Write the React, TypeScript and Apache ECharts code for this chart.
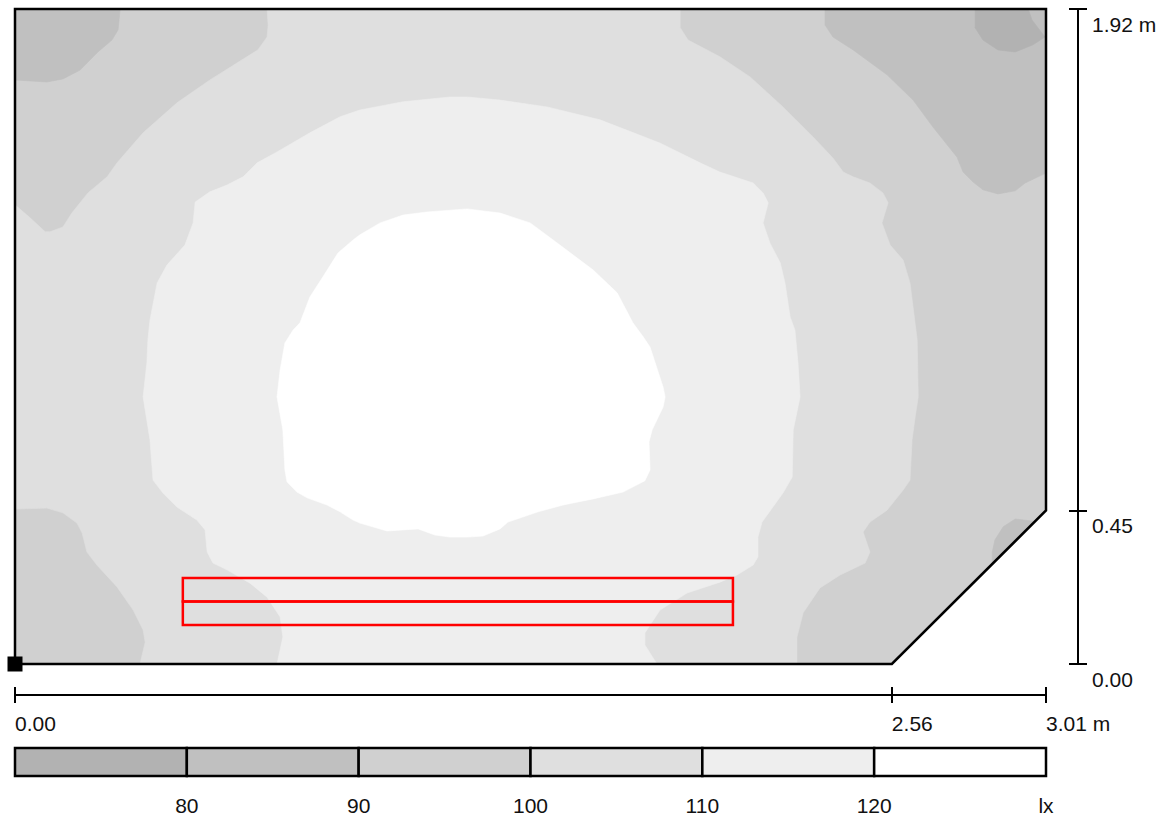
import React, { useEffect, useRef } from "react";
import * as echarts from "echarts";

// Room geometry (m)
const roomOutline: number[][] = [[0, 0], [0, 1.92], [3.01, 1.92], [3.01, 0.45], [2.56, 0]];

// Isolux band polygons (m)
const band100: number[][] = [
  [0.736, 1.92], [1.942, 1.92], [1.942, 1.865], [1.965, 1.829], [2.058, 1.78], [2.146, 1.721], [2.242, 1.633],
  [2.33, 1.545], [2.388, 1.483], [2.418, 1.442], [2.447, 1.428], [2.496, 1.41], [2.534, 1.381], [2.549, 1.352],
  [2.531, 1.293], [2.555, 1.228], [2.593, 1.184], [2.613, 1.117], [2.634, 0.95], [2.637, 0.783], [2.628, 0.724],
  [2.619, 0.657], [2.613, 0.539], [2.593, 0.51], [2.546, 0.451], [2.496, 0.416], [2.476, 0.387], [2.496, 0.328],
  [2.482, 0.296], [2.409, 0.261], [2.35, 0.223], [2.301, 0.15], [2.283, 0.079], [2.283, 0], [0.365, 0],
  [0.38, 0.064], [0.374, 0.1], [0.345, 0.158], [0.298, 0.226], [0.239, 0.29], [0.21, 0.328], [0.196, 0.384],
  [0.181, 0.413], [0.14, 0.443], [0.093, 0.457], [0, 0.454], [0, 1.346], [0.044, 1.308], [0.088, 1.267],
  [0.102, 1.267], [0.14, 1.281], [0.166, 1.322], [0.213, 1.381], [0.269, 1.428], [0.298, 1.469], [0.374, 1.557],
  [0.473, 1.645], [0.569, 1.712], [0.709, 1.8], [0.736, 1.838], [0.739, 1.873],
];
const band110: number[][] = [
  [0.388, 0.95], [0.385, 0.882], [0.374, 0.783], [0.394, 0.657], [0.403, 0.539], [0.432, 0.501], [0.473, 0.46],
  [0.531, 0.422], [0.555, 0.393], [0.561, 0.328], [0.578, 0.296], [0.619, 0.276], [0.686, 0.237], [0.736, 0.196],
  [0.774, 0.138], [0.782, 0.079], [0.765, 0], [1.874, 0], [1.839, 0.056], [1.839, 0.091], [1.883, 0.158],
  [1.962, 0.208], [2.058, 0.24], [2.108, 0.261], [2.155, 0.29], [2.169, 0.314], [2.169, 0.372], [2.181, 0.416],
  [2.242, 0.501], [2.269, 0.548], [2.272, 0.686], [2.292, 0.783], [2.286, 0.882], [2.277, 0.979], [2.263, 1.017],
  [2.248, 1.117], [2.234, 1.176], [2.204, 1.234], [2.184, 1.293], [2.199, 1.352], [2.184, 1.381], [2.155, 1.41],
  [2.058, 1.442], [2.0, 1.469], [1.883, 1.527], [1.708, 1.595], [1.553, 1.633], [1.416, 1.653], [1.32, 1.662],
  [1.27, 1.662], [1.133, 1.648], [1.007, 1.624], [0.949, 1.604], [0.861, 1.557], [0.765, 1.501], [0.707, 1.469],
  [0.666, 1.428], [0.619, 1.404], [0.569, 1.384], [0.526, 1.354], [0.52, 1.293], [0.496, 1.228], [0.444, 1.17],
  [0.415, 1.117], [0.394, 1.008],
];
const band120: number[][] = [
  [1.007, 1.258], [1.066, 1.293], [1.133, 1.316], [1.203, 1.325], [1.32, 1.334], [1.416, 1.322], [1.504, 1.293],
  [1.591, 1.228], [1.688, 1.155], [1.758, 1.088], [1.804, 1.0], [1.834, 0.959], [1.854, 0.929], [1.892, 0.812],
  [1.898, 0.783], [1.892, 0.753], [1.86, 0.686], [1.851, 0.651], [1.854, 0.569], [1.839, 0.537], [1.775, 0.504],
  [1.688, 0.484], [1.6, 0.466], [1.527, 0.446], [1.474, 0.428], [1.439, 0.416], [1.416, 0.396], [1.366, 0.375],
  [1.32, 0.372], [1.27, 0.372], [1.226, 0.378], [1.177, 0.396], [1.086, 0.39], [1.007, 0.413], [0.987, 0.422],
  [0.949, 0.446], [0.911, 0.466], [0.853, 0.487], [0.823, 0.504], [0.794, 0.534], [0.788, 0.569], [0.782, 0.686],
  [0.765, 0.783], [0.774, 0.862], [0.788, 0.941], [0.812, 0.979], [0.832, 1.0], [0.861, 1.076], [0.899, 1.135],
  [0.943, 1.205], [0.987, 1.243],
];
const band80TopLeft: number[][] = [
  [0, 1.92], [0.307, 1.92], [0.301, 1.859], [0.283, 1.829], [0.242, 1.794], [0.19, 1.741], [0.14, 1.715],
  [0.093, 1.706], [0, 1.712],
];
const band80TopRight: number[][] = [
  [2.365, 1.92], [3.01, 1.92], [3.01, 1.439], [2.949, 1.41], [2.92, 1.387], [2.87, 1.378], [2.826, 1.39],
  [2.797, 1.413], [2.768, 1.442], [2.75, 1.486], [2.68, 1.574], [2.622, 1.653], [2.546, 1.727], [2.447, 1.8],
  [2.388, 1.838], [2.365, 1.873],
];
const band80BottomRight: number[][] = [
  [2.978, 0.418], [2.92, 0.425], [2.885, 0.402], [2.861, 0.364], [2.853, 0.328], [2.853, 0.293],
];
const band70TopRight: number[][] = [
  [2.803, 1.92], [2.958, 1.92], [2.969, 1.888], [3.007, 1.838], [2.972, 1.815], [2.92, 1.794], [2.87, 1.8],
  [2.826, 1.829], [2.803, 1.865],
];

// Luminaire (m): [x0, y0, x1, y1]
const luminaireCells: number[][] = [
  [0.49, 0.114, 2.096, 0.183],
  [0.49, 0.183, 2.096, 0.252],
];

// Scales
const xTickValues = [0, 2.56, 3.01];
const xTickLabels = ["0.00", "2.56", "3.01 m"];
const yTickValues = [0, 0.45, 1.92];
const yTickLabels = ["0.00", "0.45", "1.92 m"];

// Legend
const legendColors = ["#b2b2b2", "#c0c0c0", "#d0d0d0", "#dfdfdf", "#eeeeee", "#ffffff"];
const legendLabels = ["", "80", "90", "100", "110", "120", "lx"];

const FONT = "'Liberation Sans', Arial, sans-serif";
const FS = 21;

function nearestLabel(values: number[], labels: string[], v: number) {
  let best = 0;
  for (let i = 1; i < values.length; i++) {
    if (Math.abs(values[i] - v) < Math.abs(values[best] - v)) best = i;
  }
  return labels[best];
}

function polySeries(polys: number[][][], fill: string, stroke?: string, lw?: number) {
  return {
    type: "custom",
    xAxisIndex: 0,
    yAxisIndex: 0,
    silent: true,
    data: polys.map(() => [0, 0]),
    renderItem: (params: any, api: any) => {
      const poly = polys[params.dataIndex];
      return {
        type: "polygon",
        shape: { points: poly.map((p) => api.coord(p)) },
        style: { fill, stroke: stroke || fill, lineWidth: lw ?? 0.6, lineJoin: "miter" },
      };
    },
  };
}

export default function App() {
  const ref = useRef<HTMLDivElement>(null);
  useEffect(() => {
    if (!ref.current) return;
    const chart = echarts.init(ref.current, undefined, { renderer: "svg" });
    const tickStyle = { color: "#000", width: 2 };
    const option: any = {
      animation: false,
      backgroundColor: "#ffffff",
      grid: [
        { left: 15, top: 9, width: 1031, height: 655 },
        { left: 15, top: 695, width: 1031, height: 0 },
        { left: 1078, top: 9, width: 0, height: 655 },
        { left: 15, top: 748, width: 1031, height: 28 },
      ],
      xAxis: [
        { gridIndex: 0, type: "value", min: 0, max: 3.01, show: false },
        {
          gridIndex: 1, type: "value", min: 0, max: 3.01, position: "bottom",
          axisLine: { show: true, lineStyle: { color: "#000", width: 2 } },
          axisTick: { show: true, length: 8, customValues: xTickValues, lineStyle: tickStyle },
          axisLabel: {
            show: true, customValues: xTickValues, align: "left", margin: 18,
            fontFamily: FONT, fontSize: FS, color: "#111",
            formatter: (v: number) => nearestLabel(xTickValues, xTickLabels, v),
          },
          splitLine: { show: false },
        },
        {
          gridIndex: 1, type: "value", min: 0, max: 3.01, position: "top",
          axisLine: { show: false },
          axisTick: { show: true, length: 8, customValues: xTickValues, lineStyle: tickStyle },
          axisLabel: { show: false },
          splitLine: { show: false },
        },
        { gridIndex: 2, type: "value", min: 0, max: 1, show: false },
        {
          gridIndex: 3, type: "value", min: 0, max: 6, interval: 1,
          axisLine: { show: false }, axisTick: { show: false }, splitLine: { show: false },
          axisLabel: {
            show: true, margin: 19, fontFamily: FONT, fontSize: FS, color: "#111",
            showMinLabel: true, showMaxLabel: true,
            formatter: (v: number) => legendLabels[Math.round(v)] || "",
          },
        },
      ],
      yAxis: [
        { gridIndex: 0, type: "value", min: 0, max: 1.92, show: false },
        { gridIndex: 1, type: "value", min: 0, max: 1, show: false },
        {
          gridIndex: 2, type: "value", min: 0, max: 1.92, position: "right",
          axisLine: { show: true, lineStyle: { color: "#000", width: 2 } },
          axisTick: { show: true, length: 9, customValues: yTickValues, lineStyle: tickStyle },
          axisLabel: {
            show: true, customValues: yTickValues, margin: 14, verticalAlign: "top",
            padding: [5, 0, 0, 0], align: "left",
            fontFamily: FONT, fontSize: FS, color: "#111",
            formatter: (v: number) => nearestLabel(yTickValues, yTickLabels, v),
          },
          splitLine: { show: false },
        },
        {
          gridIndex: 2, type: "value", min: 0, max: 1.92, position: "left",
          axisLine: { show: false },
          axisTick: { show: true, length: 9, customValues: yTickValues, lineStyle: tickStyle },
          axisLabel: { show: false },
          splitLine: { show: false },
        },
        { gridIndex: 3, type: "value", min: 0, max: 1, show: false },
      ],
      series: [
        polySeries([roomOutline], legendColors[2]),
        polySeries([band100], legendColors[3]),
        polySeries([band110], legendColors[4]),
        polySeries([band120], legendColors[5]),
        polySeries([band80TopLeft, band80TopRight, band80BottomRight], legendColors[1]),
        polySeries([band70TopRight], legendColors[0]),
        polySeries([roomOutline], "none", "#000", 2.5),
        {
          type: "custom",
          xAxisIndex: 0,
          yAxisIndex: 0,
          silent: true,
          data: luminaireCells,
          renderItem: (params: any, api: any) => {
            const p0 = api.coord([api.value(0), api.value(1)]);
            const p1 = api.coord([api.value(2), api.value(3)]);
            return {
              type: "rect",
              shape: { x: p0[0], y: p1[1], width: p1[0] - p0[0], height: p0[1] - p1[1] },
              style: { fill: "none", stroke: "#ff0000", lineWidth: 2.5 },
            };
          },
        },
        {
          type: "scatter",
          xAxisIndex: 0,
          yAxisIndex: 0,
          symbol: "rect",
          symbolSize: 15,
          silent: true,
          itemStyle: { color: "#000", opacity: 1 },
          data: [[0, 0]],
        },
        {
          type: "custom",
          xAxisIndex: 4,
          yAxisIndex: 4,
          silent: true,
          data: legendColors.map((_, i) => [i, 0]),
          renderItem: (params: any, api: any) => {
            const i = params.dataIndex;
            const p0 = api.coord([i, 0]);
            const p1 = api.coord([i + 1, 1]);
            return {
              type: "rect",
              shape: { x: p0[0], y: p1[1], width: p1[0] - p0[0], height: p0[1] - p1[1] },
              style: { fill: legendColors[i], stroke: "#000", lineWidth: 2.5 },
            };
          },
        },
      ],
    };
    chart.setOption(option);
    return () => chart.dispose();
  }, []);
  return (
    <div
      ref={ref}
      style={{ position: "absolute", left: 0, top: 0, width: 1165, height: 818, background: "#fff" }}
    />
  );
}
